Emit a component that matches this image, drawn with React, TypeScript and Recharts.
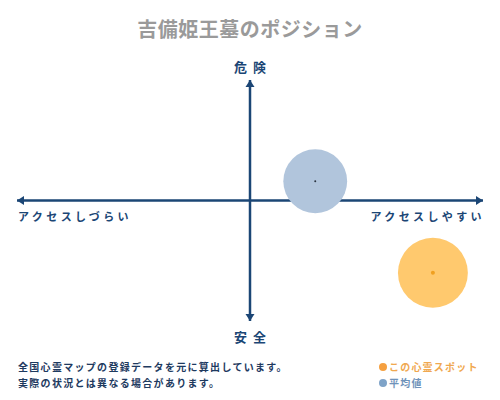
import {
  ScatterChart,
  Scatter,
  XAxis,
  YAxis,
  ZAxis,
  ReferenceLine,
} from 'recharts';

const TITLE = '吉備姫王墓のポジション';
const AXIS_TOP = '危険';
const AXIS_BOTTOM = '安全';
const AXIS_LEFT = 'アクセスしづらい';
const AXIS_RIGHT = 'アクセスしやすい';
const NOTES = ['全国心霊マップの登録データを元に算出しています。', '実際の状況とは異なる場合があります。'];
const LEGEND = ['この心霊スポット', '平均値'];

// x: アクセス, y: 危険度, z: 円の大きさ
const spotPoint = [{ x: 0.785, y: -0.6, z: 96 }];
const averagePoint = [{ x: 0.28, y: 0.16, z: 80 }];

const NAVY = '#1b4675';
const FONT = '"Noto Sans CJK JP", sans-serif';

const makeBubble = (fill: string, dot: string, dotR: number) => (props: any) => {
  const { cx, cy, size } = props;
  const r = Math.sqrt(size / Math.PI);
  return (
    <g>
      <circle cx={cx} cy={cy} r={r} fill={fill} />
      <circle cx={cx} cy={cy} r={dotR} fill={dot} />
    </g>
  );
};

const arrowLine = (props: any) => {
  const { x1, y1, x2, y2 } = props;
  const horizontal = Math.abs(y1 - y2) < 1;
  const h = 7;
  const w = 4.5;
  const heads = horizontal
    ? [
        `${x1},${y1} ${x1 + h},${y1 - w} ${x1 + h},${y1 + w}`,
        `${x2},${y2} ${x2 - h},${y2 - w} ${x2 - h},${y2 + w}`,
      ]
    : [
        `${x1},${Math.min(y1, y2)} ${x1 - w},${Math.min(y1, y2) + h} ${x1 + w},${Math.min(y1, y2) + h}`,
        `${x1},${Math.max(y1, y2)} ${x1 - w},${Math.max(y1, y2) - h} ${x1 + w},${Math.max(y1, y2) - h}`,
      ];
  return (
    <g>
      <line x1={x1} y1={y1} x2={x2} y2={y2} stroke={NAVY} strokeWidth={2.5} />
      {heads.map((p, i) => (
        <polygon key={i} points={p} fill={NAVY} />
      ))}
    </g>
  );
};

const abs = (style: React.CSSProperties): React.CSSProperties => ({
  position: 'absolute',
  fontFamily: FONT,
  fontWeight: 700,
  whiteSpace: 'nowrap',
  lineHeight: 1,
  ...style,
});

export default function App() {
  return (
    <div style={{ position: 'absolute', left: 0, top: 0, width: 500, height: 400, background: '#fff' }}>
      <ScatterChart width={500} height={400} margin={{ top: 80, right: 17, bottom: 79, left: 17 }}>
        <XAxis type="number" dataKey="x" domain={[-1, 1]} hide />
        <YAxis type="number" dataKey="y" domain={[-1, 1]} hide />
        <ZAxis type="number" dataKey="z" domain={[0, 100]} range={[0, 4000]} />
        <ReferenceLine segment={[{ x: -1, y: 0 }, { x: 1, y: 0 }]} shape={arrowLine} />
        <ReferenceLine segment={[{ x: 0, y: -1 }, { x: 0, y: 1 }]} shape={arrowLine} />
        <Scatter data={averagePoint} isAnimationActive={false} shape={makeBubble('#b1c5dc', '#2a3340', 1)} />
        <Scatter data={spotPoint} isAnimationActive={false} shape={makeBubble('#ffc96e', '#f0a020', 2)} />
      </ScatterChart>

      <div style={abs({ left: 0, width: 500, top: 19, textAlign: 'center', fontSize: 20, color: '#9a9a9a', letterSpacing: 0.5 })}>
        {TITLE}
      </div>
      <div style={abs({ left: 0, width: 506, top: 60, textAlign: 'center', fontSize: 13, color: NAVY, letterSpacing: 6 })}>
        {AXIS_TOP}
      </div>
      <div style={abs({ left: 0, width: 506, top: 330, textAlign: 'center', fontSize: 13, color: NAVY, letterSpacing: 6 })}>
        {AXIS_BOTTOM}
      </div>
      <div style={abs({ left: 18, top: 211, fontSize: 11, color: NAVY, letterSpacing: 3.4 })}>{AXIS_LEFT}</div>
      <div style={abs({ right: 15, top: 211, fontSize: 11, color: NAVY, letterSpacing: 3.4 })}>{AXIS_RIGHT}</div>

      {NOTES.map((t, i) => (
        <div key={t} style={abs({ left: 18, top: 362 + i * 16, fontSize: 10, color: '#1e3a5f', letterSpacing: 1.3 })}>
          {t}
        </div>
      ))}

      <div style={abs({ left: 379, top: 362, fontSize: 10, color: '#f0a850', letterSpacing: 1.2 })}>
        <span style={{ display: 'inline-block', width: 8, height: 8, borderRadius: 4, background: '#f5a040', marginRight: 2 }} />
        {LEGEND[0]}
      </div>
      <div style={abs({ left: 379, top: 378, fontSize: 10, color: '#6f93ba', letterSpacing: 1.2 })}>
        <span style={{ display: 'inline-block', width: 8, height: 8, borderRadius: 4, background: '#7fa3c8', marginRight: 2 }} />
        {LEGEND[1]}
      </div>
    </div>
  );
}
